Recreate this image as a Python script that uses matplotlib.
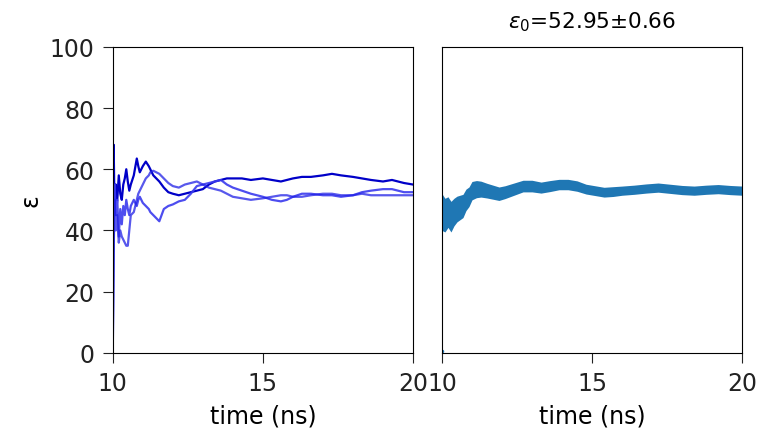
import matplotlib
matplotlib.use("Agg")
import matplotlib.pyplot as plt
import numpy as np

# Left panel: three running averages
t_run = [10.0, 10.03, 10.06, 10.1, 10.15, 10.2, 10.25, 10.3, 10.35, 10.4, 10.45, 10.5, 10.55, 10.6,
         10.7, 10.8, 10.85, 10.9, 11.0, 11.1, 11.2, 11.25, 11.35, 11.45, 11.55, 11.7, 11.85, 12.0,
         12.2, 12.4, 12.6, 12.8, 13.0, 13.2, 13.4, 13.6, 13.8, 14.0, 14.3, 14.6, 15.0, 15.3, 15.6,
         15.8, 16.0, 16.3, 16.6, 17.0, 17.3, 17.6, 18.0, 18.3, 18.6, 19.0, 19.3, 19.5, 19.7, 20.0]
eps_run1 = [0, 68, 45, 55, 50, 58, 52, 50, 55, 57, 60, 56, 53, 55, 58, 63.5, 61, 59, 61, 62.5, 61,
            60, 58, 57, 56, 54, 52.5, 52, 51.5, 52, 52.5, 53, 53.5, 55, 56, 56.5, 57, 57, 57, 56.5,
            57, 56.5, 56, 56.5, 57, 57.5, 57.5, 58, 58.5, 58, 57.5, 57, 56.5, 56, 56.5, 56, 55.5, 55]
eps_run2 = [0, 40, 55, 45, 50, 38, 47, 42, 48, 45, 50, 47, 45, 48, 50, 48, 50, 51, 49, 48, 47, 46,
            45, 44, 43, 47, 48, 48.5, 49.5, 50, 52, 54.5, 55, 55.5, 56, 56.5, 55, 54, 53, 52, 51,
            50, 49.5, 50, 51, 52, 52, 51.5, 51.5, 51, 51.5, 52.5, 53, 53.5, 53.5, 53, 52.5, 52.5]
eps_run3 = [0, 33, 50, 40, 45, 36, 40, 38, 37, 36, 35, 35, 40, 45, 46, 50, 52, 53, 55, 57, 58, 59,
            59.5, 59, 58.5, 57, 55.5, 54.5, 54, 55, 55.5, 56, 55, 54, 53.5, 53, 52, 51, 50.5, 50,
            50.5, 51, 51.5, 51.5, 51, 51, 51.5, 52, 52, 51.5, 51.5, 52, 51.5, 51.5, 51.5, 51.5,
            51.5, 51.5]

# Right panel: mean with error
t_mean = [10.0, 10.1, 10.2, 10.3, 10.4, 10.5, 10.6, 10.7, 10.8, 10.9, 11.0, 11.15, 11.3, 11.5,
          11.7, 11.9, 12.1, 12.4, 12.7, 13.0, 13.3, 13.6, 13.9, 14.2, 14.5, 14.8, 15.1, 15.4,
          15.7, 16.0, 16.4, 16.8, 17.2, 17.6, 18.0, 18.4, 18.8, 19.2, 19.6, 20.0]
eps_mean = [46, 45, 46, 44.5, 46, 47, 47.5, 48, 50, 51, 53, 53.5, 53.5, 53, 52.5, 52, 52.5, 53.5,
            54.5, 54.5, 54, 54.5, 55, 55, 54.5, 53.5, 53, 52.5, 52.7, 53, 53.3, 53.7, 54, 53.6,
            53.2, 53, 53.3, 53.5, 53.2, 53]
eps_err = [6, 5.5, 5, 5, 4.5, 4.2, 4, 3.8, 3.5, 3.2, 3, 2.8, 2.6, 2.4, 2.3, 2.2, 2.1, 2.0, 1.9,
           1.9, 1.8, 1.8, 1.7, 1.7, 1.7, 1.6, 1.6, 1.6, 1.6, 1.5, 1.5, 1.5, 1.5, 1.5, 1.5, 1.5,
           1.5, 1.5, 1.5, 1.5]
title_text = "$\\epsilon_0$=52.95±0.66"

fig = plt.figure(figsize=(7.62, 4.39), dpi=100)
ax1 = fig.add_axes([0.148, 0.194, 0.394, 0.697])
ax2 = fig.add_axes([0.580, 0.194, 0.394, 0.697])

ax1.plot(t_run, eps_run1, color="#0000c8", lw=1.6)
ax1.plot(t_run, eps_run2, color="#3a3aee", lw=1.6, alpha=0.9)
ax1.plot(t_run, eps_run3, color="#2020e6", lw=1.6, alpha=0.75)
ax1.set_xlim(10, 20)
ax1.set_ylim(0, 100)
ax1.set_xticks([10, 15, 20])
ax1.set_yticks([0, 20, 40, 60, 80, 100])
ax1.set_xlabel("time (ns)", fontsize=17, labelpad=6)
ax1.set_ylabel("ε", fontsize=17)
ax1.yaxis.set_label_coords(-0.235, 0.5)
ax1.tick_params(labelsize=17, colors="#222222", length=7, pad=6)

m = np.array(eps_mean)
e = np.array(eps_err)
ax2.fill_between(t_mean, m - e, m + e, color="#1f77b4", lw=0)
ax2.plot(t_mean, eps_mean, color="#1f77b4", lw=2)
ax2.plot([10.0], [0.5], marker=".", color="#1f77b4", ms=3)
ax2.set_xlim(10, 20)
ax2.set_ylim(0, 100)
ax2.set_xticks([10, 15, 20])
ax2.set_yticks([])
ax2.tick_params(labelsize=17, colors="#222222", length=7, pad=6)
ax2.set_xlabel("time (ns)", fontsize=17, labelpad=6)
ax2.set_title(title_text, fontsize=15.5, pad=14)

fig.savefig("out.png", dpi=100)
